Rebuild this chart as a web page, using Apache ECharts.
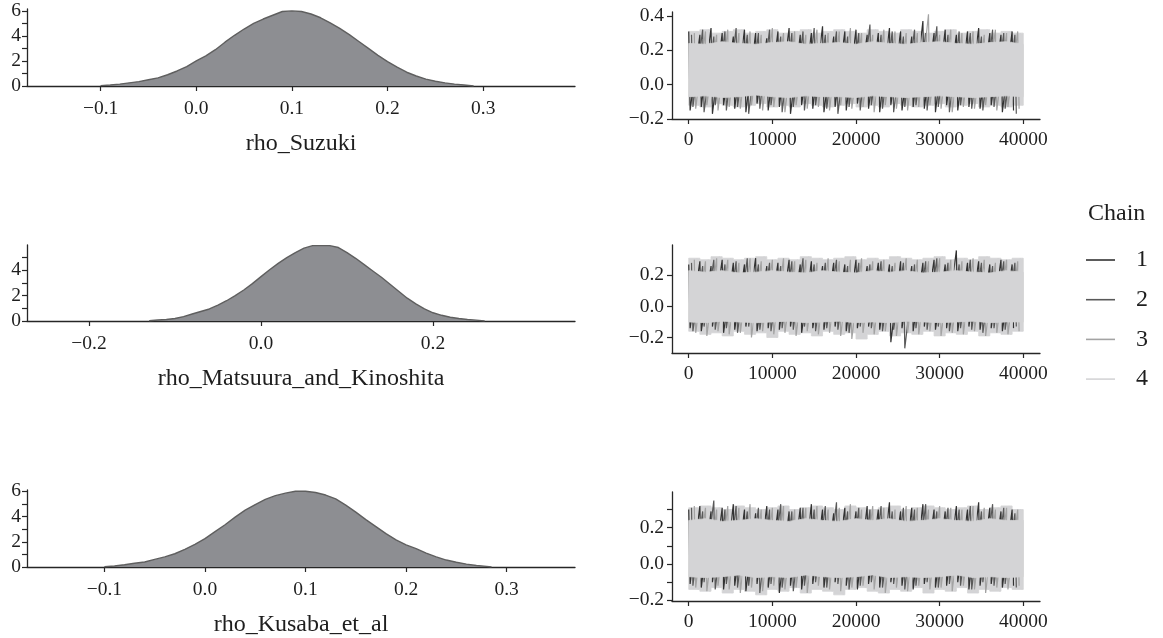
<!DOCTYPE html>
<html><head><meta charset="utf-8">
<script src="https://cdn.jsdelivr.net/npm/echarts@6/dist/echarts.min.js"></script>
<style>html,body{margin:0;padding:0;background:#fff}#c{width:1163px;height:638px}</style>
</head><body><div id="c"></div><script>
// ---------- data ----------
const params = ['rho_Suzuki', 'rho_Matsuura_and_Kinoshita', 'rho_Kusaba_et_al'];
const chainNames = ['1', '2', '3', '4'];
const ITER_MAX = 40000;

// density curves (x, height)
const densX_Suzuki = [-0.10,-0.09,-0.08,-0.07,-0.06,-0.05,-0.04,-0.03,-0.02,-0.01,0.00,0.01,0.02,0.03,0.04,0.05,0.06,0.07,0.08,0.09,0.10,0.11,0.12,0.13,0.14,0.15,0.16,0.17,0.18,0.19,0.20,0.21,0.22,0.23,0.24,0.25,0.26,0.27,0.28,0.29];
const densY_Suzuki = [0.03,0.08,0.15,0.25,0.35,0.5,0.65,0.9,1.2,1.55,2.0,2.4,2.9,3.5,4.05,4.55,5.0,5.35,5.65,5.95,6.0,5.95,5.75,5.45,5.05,4.6,4.1,3.55,3.0,2.45,1.95,1.5,1.1,0.8,0.55,0.38,0.25,0.15,0.08,0.0];

const densX_Matsuura = [-0.13,-0.12,-0.11,-0.10,-0.09,-0.08,-0.07,-0.06,-0.05,-0.04,-0.03,-0.02,-0.01,0.00,0.01,0.02,0.03,0.04,0.05,0.06,0.07,0.08,0.09,0.10,0.11,0.12,0.13,0.14,0.15,0.16,0.17,0.18,0.19,0.20,0.21,0.22,0.23,0.24,0.25,0.26];
const densY_Matsuura = [0.02,0.08,0.12,0.2,0.35,0.55,0.75,0.95,1.25,1.6,2.0,2.45,2.95,3.5,4.05,4.55,5.0,5.4,5.75,5.95,5.95,5.95,5.8,5.4,4.95,4.45,3.95,3.45,2.9,2.35,1.8,1.35,0.95,0.65,0.45,0.3,0.2,0.12,0.07,0.0];

const densX_Kusaba = [-0.10,-0.09,-0.08,-0.07,-0.06,-0.05,-0.04,-0.03,-0.02,-0.01,0.00,0.01,0.02,0.03,0.04,0.05,0.06,0.07,0.08,0.09,0.10,0.11,0.12,0.13,0.14,0.15,0.16,0.17,0.18,0.19,0.20,0.21,0.22,0.23,0.24,0.25,0.26,0.27,0.28,0.285];
const densY_Kusaba = [0.02,0.08,0.18,0.3,0.4,0.6,0.8,1.05,1.4,1.8,2.25,2.8,3.35,3.95,4.5,4.95,5.35,5.65,5.85,6.0,6.0,5.9,5.7,5.4,4.9,4.35,3.75,3.2,2.65,2.15,1.75,1.45,1.1,0.8,0.55,0.38,0.23,0.12,0.05,0.0];

// axis ticks
const densXTicks_Suzuki = [-0.1, 0.0, 0.1, 0.2, 0.3];
const densXTicks_Matsuura = [-0.2, 0.0, 0.2];
const densXTicks_Kusaba = [-0.1, 0.0, 0.1, 0.2, 0.3];
const densYTicks_Suzuki = [0,1,2,3,4,5,6], densYLabels_Suzuki = [0,2,4,6];
const densYTicks_Matsuura = [0,1,2,3,4,5], densYLabels_Matsuura = [0,2,4];
const densYTicks_Kusaba = [0,1,2,3,4,5,6], densYLabels_Kusaba = [0,2,4,6];
const traceXTicks = [0, 10000, 20000, 30000, 40000];
const traceYTicks_Suzuki = [-0.2, 0.0, 0.2, 0.4], traceYLabels_Suzuki = [-0.2, 0.0, 0.2, 0.4];
const traceYTicks_Matsuura = [-0.2, 0.0, 0.2], traceYLabels_Matsuura = [-0.2, 0.0, 0.2];
const traceYTicks_Kusaba = [-0.2, -0.1, 0.0, 0.1, 0.2, 0.3], traceYLabels_Kusaba = [-0.2, 0.0, 0.2];

// trace: range where all chains overlap densely (every 2000 iterations)
const coreHi_Suzuki = [0.24,0.235,0.25,0.24,0.235,0.245,0.25,0.235,0.24,0.245,0.235,0.25,0.24,0.235,0.245,0.25,0.24,0.235,0.245,0.25,0.235];
const coreLo_Suzuki = [-0.07,-0.065,-0.075,-0.07,-0.06,-0.07,-0.075,-0.065,-0.07,-0.07,-0.075,-0.065,-0.07,-0.075,-0.07,-0.065,-0.07,-0.075,-0.07,-0.065,-0.07];
// trace: per-chain window extremes (30 windows)
const hi1_Suzuki = [0.31,0.29,0.33,0.30,0.28,0.32,0.30,0.27,0.31,0.33,0.29,0.30,0.34,0.28,0.31,0.32,0.29,0.30,0.33,0.31,0.28,0.37,0.30,0.32,0.29,0.31,0.33,0.30,0.29,0.31];
const lo1_Suzuki = [-0.15,-0.13,-0.17,-0.12,-0.14,-0.16,-0.11,-0.15,-0.13,-0.17,-0.12,-0.14,-0.16,-0.13,-0.15,-0.11,-0.14,-0.16,-0.12,-0.15,-0.13,-0.14,-0.16,-0.12,-0.15,-0.13,-0.14,-0.12,-0.16,-0.15];
const hi2_Suzuki = [0.29,0.32,0.28,0.31,0.33,0.29,0.30,0.32,0.28,0.30,0.31,0.33,0.29,0.31,0.28,0.30,0.35,0.29,0.31,0.28,0.32,0.30,0.34,0.29,0.31,0.30,0.28,0.32,0.30,0.29];
const lo2_Suzuki = [-0.13,-0.16,-0.12,-0.15,-0.13,-0.17,-0.14,-0.12,-0.16,-0.13,-0.15,-0.12,-0.14,-0.17,-0.13,-0.15,-0.12,-0.14,-0.16,-0.13,-0.12,-0.15,-0.13,-0.16,-0.12,-0.14,-0.15,-0.13,-0.14,-0.17];
const hi3_Suzuki = [0.30,0.31,0.29,0.32,0.30,0.31,0.29,0.33,0.30,0.31,0.29,0.32,0.30,0.31,0.33,0.30,0.29,0.32,0.31,0.30,0.30,0.41,0.29,0.32,0.30,0.31,0.29,0.32,0.30,0.31];
const lo3_Suzuki = [-0.14,-0.12,-0.15,-0.13,-0.14,-0.12,-0.15,-0.13,-0.16,-0.12,-0.14,-0.13,-0.15,-0.12,-0.14,-0.13,-0.16,-0.12,-0.14,-0.15,-0.13,-0.12,-0.14,-0.16,-0.13,-0.14,-0.12,-0.15,-0.13,-0.14];
const hi4_Suzuki = [0.31,0.32,0.30,0.31,0.32,0.30,0.31,0.32,0.30,0.31,0.32,0.30,0.31,0.32,0.31,0.30,0.32,0.31,0.30,0.32,0.31,0.30,0.31,0.32,0.30,0.31,0.32,0.30,0.31,0.30];
const lo4_Suzuki = [-0.12,-0.13,-0.11,-0.12,-0.13,-0.12,-0.11,-0.13,-0.12,-0.13,-0.11,-0.12,-0.13,-0.12,-0.11,-0.13,-0.12,-0.13,-0.11,-0.12,-0.13,-0.12,-0.11,-0.13,-0.12,-0.11,-0.13,-0.12,-0.13,-0.12];

const coreHi_Matsuura = [0.23,0.22,0.23,0.215,0.22,0.23,0.22,0.215,0.23,0.22,0.215,0.23,0.22,0.23,0.215,0.22,0.23,0.22,0.215,0.23,0.22];
const coreLo_Matsuura = [-0.10,-0.105,-0.095,-0.10,-0.105,-0.10,-0.095,-0.105,-0.10,-0.095,-0.105,-0.10,-0.105,-0.095,-0.10,-0.105,-0.10,-0.095,-0.105,-0.10,-0.10];
const hi1_Matsuura = [0.27,0.29,0.26,0.30,0.28,0.27,0.31,0.26,0.28,0.30,0.27,0.29,0.26,0.28,0.27,0.30,0.26,0.28,0.27,0.29,0.26,0.28,0.30,0.27,0.36,0.28,0.29,0.27,0.30,0.27];
const lo1_Matsuura = [-0.14,-0.16,-0.13,-0.17,-0.15,-0.13,-0.16,-0.14,-0.15,-0.13,-0.17,-0.14,-0.15,-0.13,-0.16,-0.14,-0.13,-0.15,-0.23,-0.14,-0.16,-0.13,-0.15,-0.14,-0.16,-0.13,-0.15,-0.14,-0.16,-0.14];
const hi2_Matsuura = [0.28,0.26,0.30,0.27,0.29,0.31,0.27,0.28,0.26,0.29,0.31,0.27,0.28,0.30,0.26,0.28,0.27,0.29,0.26,0.28,0.27,0.29,0.31,0.28,0.27,0.30,0.28,0.26,0.29,0.28];
const lo2_Matsuura = [-0.16,-0.13,-0.15,-0.14,-0.17,-0.13,-0.15,-0.16,-0.14,-0.15,-0.13,-0.16,-0.14,-0.15,-0.17,-0.13,-0.14,-0.16,-0.15,-0.27,-0.14,-0.15,-0.13,-0.16,-0.14,-0.15,-0.17,-0.14,-0.15,-0.13];
const hi3_Matsuura = [0.30,0.29,0.31,0.30,0.28,0.31,0.29,0.30,0.31,0.29,0.30,0.28,0.31,0.29,0.30,0.31,0.29,0.30,0.28,0.31,0.30,0.29,0.31,0.30,0.29,0.31,0.30,0.28,0.30,0.29];
const lo3_Matsuura = [-0.17,-0.19,-0.16,-0.18,-0.17,-0.20,-0.16,-0.18,-0.17,-0.19,-0.16,-0.18,-0.17,-0.19,-0.21,-0.17,-0.18,-0.16,-0.19,-0.17,-0.18,-0.16,-0.19,-0.17,-0.18,-0.16,-0.19,-0.17,-0.18,-0.16];
const hi4_Matsuura = [0.31,0.30,0.32,0.31,0.30,0.31,0.32,0.30,0.31,0.30,0.32,0.31,0.30,0.31,0.32,0.30,0.31,0.30,0.32,0.31,0.30,0.31,0.32,0.30,0.31,0.30,0.32,0.31,0.30,0.31];
const lo4_Matsuura = [-0.16,-0.18,-0.17,-0.19,-0.16,-0.18,-0.17,-0.20,-0.16,-0.18,-0.17,-0.19,-0.16,-0.18,-0.17,-0.21,-0.18,-0.16,-0.19,-0.17,-0.18,-0.16,-0.19,-0.17,-0.18,-0.16,-0.19,-0.17,-0.18,-0.16];

const coreHi_Kusaba = [0.24,0.25,0.235,0.24,0.25,0.24,0.235,0.25,0.24,0.235,0.25,0.24,0.25,0.235,0.24,0.25,0.24,0.235,0.25,0.24,0.24];
const coreLo_Kusaba = [-0.07,-0.075,-0.07,-0.06,-0.075,-0.07,-0.075,-0.06,-0.07,-0.075,-0.07,-0.06,-0.075,-0.07,-0.075,-0.07,-0.06,-0.075,-0.07,-0.075,-0.07];
const hi1_Kusaba = [0.30,0.32,0.29,0.31,0.33,0.30,0.28,0.32,0.30,0.29,0.31,0.33,0.30,0.28,0.31,0.29,0.32,0.30,0.34,0.29,0.31,0.33,0.30,0.29,0.32,0.30,0.34,0.31,0.29,0.30];
const lo1_Kusaba = [-0.11,-0.13,-0.10,-0.14,-0.12,-0.15,-0.11,-0.13,-0.16,-0.12,-0.14,-0.11,-0.13,-0.10,-0.12,-0.14,-0.11,-0.13,-0.10,-0.12,-0.14,-0.11,-0.13,-0.12,-0.10,-0.14,-0.12,-0.11,-0.13,-0.12];
const hi2_Kusaba = [0.31,0.29,0.35,0.30,0.32,0.29,0.31,0.30,0.33,0.29,0.31,0.30,0.32,0.34,0.29,0.31,0.30,0.32,0.29,0.31,0.30,0.33,0.29,0.31,0.30,0.32,0.29,0.33,0.31,0.28];
const lo2_Kusaba = [-0.12,-0.10,-0.14,-0.11,-0.13,-0.12,-0.16,-0.11,-0.13,-0.15,-0.12,-0.10,-0.13,-0.11,-0.14,-0.12,-0.10,-0.13,-0.11,-0.14,-0.12,-0.10,-0.13,-0.11,-0.12,-0.14,-0.10,-0.12,-0.11,-0.13];
const hi3_Kusaba = [0.32,0.31,0.30,0.32,0.31,0.33,0.30,0.31,0.32,0.30,0.31,0.32,0.30,0.31,0.33,0.30,0.32,0.31,0.30,0.32,0.31,0.30,0.32,0.31,0.30,0.32,0.31,0.30,0.31,0.30];
const lo3_Kusaba = [-0.13,-0.15,-0.12,-0.14,-0.16,-0.13,-0.15,-0.12,-0.14,-0.13,-0.16,-0.12,-0.14,-0.15,-0.13,-0.12,-0.14,-0.16,-0.13,-0.15,-0.12,-0.14,-0.13,-0.15,-0.12,-0.14,-0.16,-0.13,-0.14,-0.12];
const hi4_Kusaba = [0.31,0.32,0.31,0.30,0.32,0.31,0.30,0.31,0.32,0.30,0.31,0.32,0.31,0.30,0.32,0.31,0.30,0.31,0.32,0.30,0.31,0.32,0.31,0.30,0.31,0.32,0.30,0.31,0.32,0.30];
const lo4_Kusaba = [-0.14,-0.15,-0.13,-0.16,-0.14,-0.15,-0.17,-0.14,-0.15,-0.13,-0.16,-0.14,-0.15,-0.17,-0.14,-0.13,-0.15,-0.16,-0.14,-0.15,-0.13,-0.16,-0.14,-0.15,-0.13,-0.16,-0.14,-0.15,-0.13,-0.14];

// ---------- layout & style ----------
const FONT = 'Liberation Serif';
const AX = '#262626';
const TXT = '#1e1e1e';
const chainColors = ['#333333', '#595959', '#a3a3a3', '#d4d4d6'];
const densFill = '#8d8e92', densLine = '#5f5f5f';

const panels = [
  { dx: densX_Suzuki, dy: densY_Suzuki, xMin: -0.177, xMax: 0.396, yMax: 6.15,
    xt: densXTicks_Suzuki, yt: densYTicks_Suzuki, yl: densYLabels_Suzuki,
    dg: {left: 27, top: 9, width: 548, height: 77}, xMargin: 13,
    tg: {left: 672, top: 12, width: 368, height: 107}, tyMin: -0.2, tyMax: 0.423,
    tyt: traceYTicks_Suzuki, tyl: traceYLabels_Suzuki,
    coreHi: coreHi_Suzuki, coreLo: coreLo_Suzuki,
    hi: [hi1_Suzuki, hi2_Suzuki, hi3_Suzuki, hi4_Suzuki], lo: [lo1_Suzuki, lo2_Suzuki, lo3_Suzuki, lo4_Suzuki] },
  { dx: densX_Matsuura, dy: densY_Matsuura, xMin: -0.272, xMax: 0.365, yMax: 6.0,
    xt: densXTicks_Matsuura, yt: densYTicks_Matsuura, yl: densYLabels_Matsuura,
    dg: {left: 27, top: 245, width: 548, height: 76}, xMargin: 13,
    tg: {left: 672, top: 245, width: 368, height: 108}, tyMin: -0.30, tyMax: 0.395,
    tyt: traceYTicks_Matsuura, tyl: traceYLabels_Matsuura,
    coreHi: coreHi_Matsuura, coreLo: coreLo_Matsuura,
    hi: [hi1_Matsuura, hi2_Matsuura, hi3_Matsuura, hi4_Matsuura], lo: [lo1_Matsuura, lo2_Matsuura, lo3_Matsuura, lo4_Matsuura] },
  { dx: densX_Kusaba, dy: densY_Kusaba, xMin: -0.177, xMax: 0.368, yMax: 6.1,
    xt: densXTicks_Kusaba, yt: densYTicks_Kusaba, yl: densYLabels_Kusaba,
    dg: {left: 27, top: 490, width: 548, height: 79}, xMargin: 13,
    tg: {left: 672, top: 492, width: 368, height: 109}, tyMin: -0.204, tyMax: 0.397,
    tyt: traceYTicks_Kusaba, tyl: traceYLabels_Kusaba,
    coreHi: coreHi_Kusaba, coreLo: coreLo_Kusaba,
    hi: [hi1_Kusaba, hi2_Kusaba, hi3_Kusaba, hi4_Kusaba], lo: [lo1_Kusaba, lo2_Kusaba, lo3_Kusaba, lo4_Kusaba] }
];

const fmt1 = v => (v < -1e-9 ? '\u2212' : '') + Math.abs(v).toFixed(1);
const lineCommon = { show: true, onZero: false, lineStyle: { color: AX, width: 1.3 } };
const tickStyle = { color: AX, width: 1.2 };
const labelText = { fontFamily: FONT, fontSize: 19.5, color: TXT };

function zigzag(hi, lo, k) {
  const W = ITER_MAX / hi.length;
  const pts = [];
  for (let i = 0; i < hi.length; i++) {
    const x0 = i * W + k * W / 4;
    pts.push([x0, hi[i]]);
    pts.push([x0 + W / 8, lo[i]]);
  }
  return pts;
}
// one filled polygon between lower and upper values: rows [x, lo, hi]
function bandSeries(rows, color, gi, z) {
  return {
    type: 'custom', name: 'band', xAxisIndex: gi, yAxisIndex: gi, silent: true, z: z,
    coordinateSystem: 'cartesian2d', encode: { x: 0, y: [1, 2] }, data: rows,
    renderItem: (prm, api) => {
      if (prm.dataIndex !== 0) return null;
      const up = rows.map(r => api.coord([r[0], r[2]]));
      const dn = rows.slice().reverse().map(r => api.coord([r[0], r[1]]));
      return { type: 'polygon', shape: { points: up.concat(dn) },
        style: { fill: color, stroke: color, lineWidth: 0.8 } };
    }
  };
}

const grid = [], xAxis = [], yAxis = [], series = [];
panels.forEach((p, i) => {
  grid.push(Object.assign({ containLabel: false }, p.dg));
  xAxis.push({
    type: 'value', gridIndex: i, min: p.xMin, max: p.xMax,
    name: params[i], nameLocation: 'middle', nameGap: 46,
    nameTextStyle: { fontFamily: FONT, fontSize: 24, color: TXT },
    axisLine: lineCommon,
    axisTick: { show: true, length: 5, customValues: p.xt, lineStyle: tickStyle },
    axisLabel: { customValues: p.xt, formatter: fmt1, margin: p.xMargin, ...labelText },
    splitLine: { show: false }
  });
  yAxis.push({
    type: 'value', gridIndex: i, min: 0, max: p.yMax,
    axisLine: lineCommon,
    axisTick: { show: true, length: 5, customValues: p.yt, lineStyle: tickStyle },
    axisLabel: { customValues: p.yl, formatter: v => String(Math.round(v)), margin: 6, ...labelText },
    splitLine: { show: false }
  });
  series.push({
    type: 'line', name: params[i], xAxisIndex: i, yAxisIndex: i, symbol: 'none', silent: true,
    data: p.dx.map((x, j) => [x, p.dy[j]]),
    lineStyle: { color: densLine, width: 1.4 },
    areaStyle: { color: densFill, opacity: 1 }
  });
});

panels.forEach((p, i) => {
  const gi = i + 3;
  grid.push(Object.assign({ containLabel: false }, p.tg));
  xAxis.push({
    type: 'value', gridIndex: gi, min: -2000, max: 42000,
    axisLine: lineCommon,
    axisTick: { show: true, length: 5, customValues: traceXTicks, lineStyle: tickStyle },
    axisLabel: { customValues: traceXTicks, formatter: v => String(v), margin: 11, ...labelText },
    splitLine: { show: false }
  });
  yAxis.push({
    type: 'value', gridIndex: gi, min: p.tyMin, max: p.tyMax,
    axisLine: lineCommon,
    axisTick: { show: true, length: 5, customValues: p.tyt, lineStyle: tickStyle },
    axisLabel: { customValues: p.tyl, formatter: fmt1, margin: 8, ...labelText },
    splitLine: { show: false }
  });
  // chain 4 envelope (stepped per window), underneath everything
  const W = ITER_MAX / p.hi[3].length;
  const env = [];
  p.hi[3].forEach((h, j) => { env.push([j * W, p.lo[3][j], h]); env.push([(j + 1) * W, p.lo[3][j], h]); });
  series.push(bandSeries(env, chainColors[3], gi, 1));
  for (let c = 0; c < 3; c++) {
    series.push({
      type: 'line', name: chainNames[c], xAxisIndex: gi, yAxisIndex: gi, symbol: 'none', silent: true, z: 2,
      data: zigzag(p.hi[c], p.lo[c], c),
      lineStyle: { color: chainColors[c], width: 1.2 }, itemStyle: { color: chainColors[c] }
    });
  }
  const coreStep = ITER_MAX / (p.coreHi.length - 1);
  series.push(bandSeries(p.coreHi.map((v, j) => [j * coreStep, p.coreLo[j], v]), chainColors[3], gi, 3));
  series.push({
    type: 'line', name: chainNames[3], xAxisIndex: gi, yAxisIndex: gi, symbol: 'none', silent: true, z: 4,
    data: zigzag(p.hi[3], p.lo[3], 3),
    lineStyle: { color: chainColors[3], width: 1 }, itemStyle: { color: chainColors[3] }
  });
});

const option = {
  animation: false,
  backgroundColor: '#ffffff',
  title: { text: 'Chain', left: 1088, top: 202, padding: 0,
    textStyle: { fontFamily: FONT, fontSize: 24, fontWeight: 'normal', color: TXT } },
  legend: {
    data: chainNames.map(n => ({ name: n, icon: 'rect' })),
    orient: 'vertical', left: 1086, top: 248, padding: 0,
    itemWidth: 29, itemHeight: 1.6, itemGap: 15.7, selectedMode: false,
    textStyle: { fontFamily: FONT, fontSize: 24, color: TXT, padding: [0, 0, 0, 16] }
  },
  grid, xAxis, yAxis, series
};
const chart = echarts.init(document.getElementById('c'), null, { renderer: 'canvas' });
chart.setOption(option);
</script></body></html>
